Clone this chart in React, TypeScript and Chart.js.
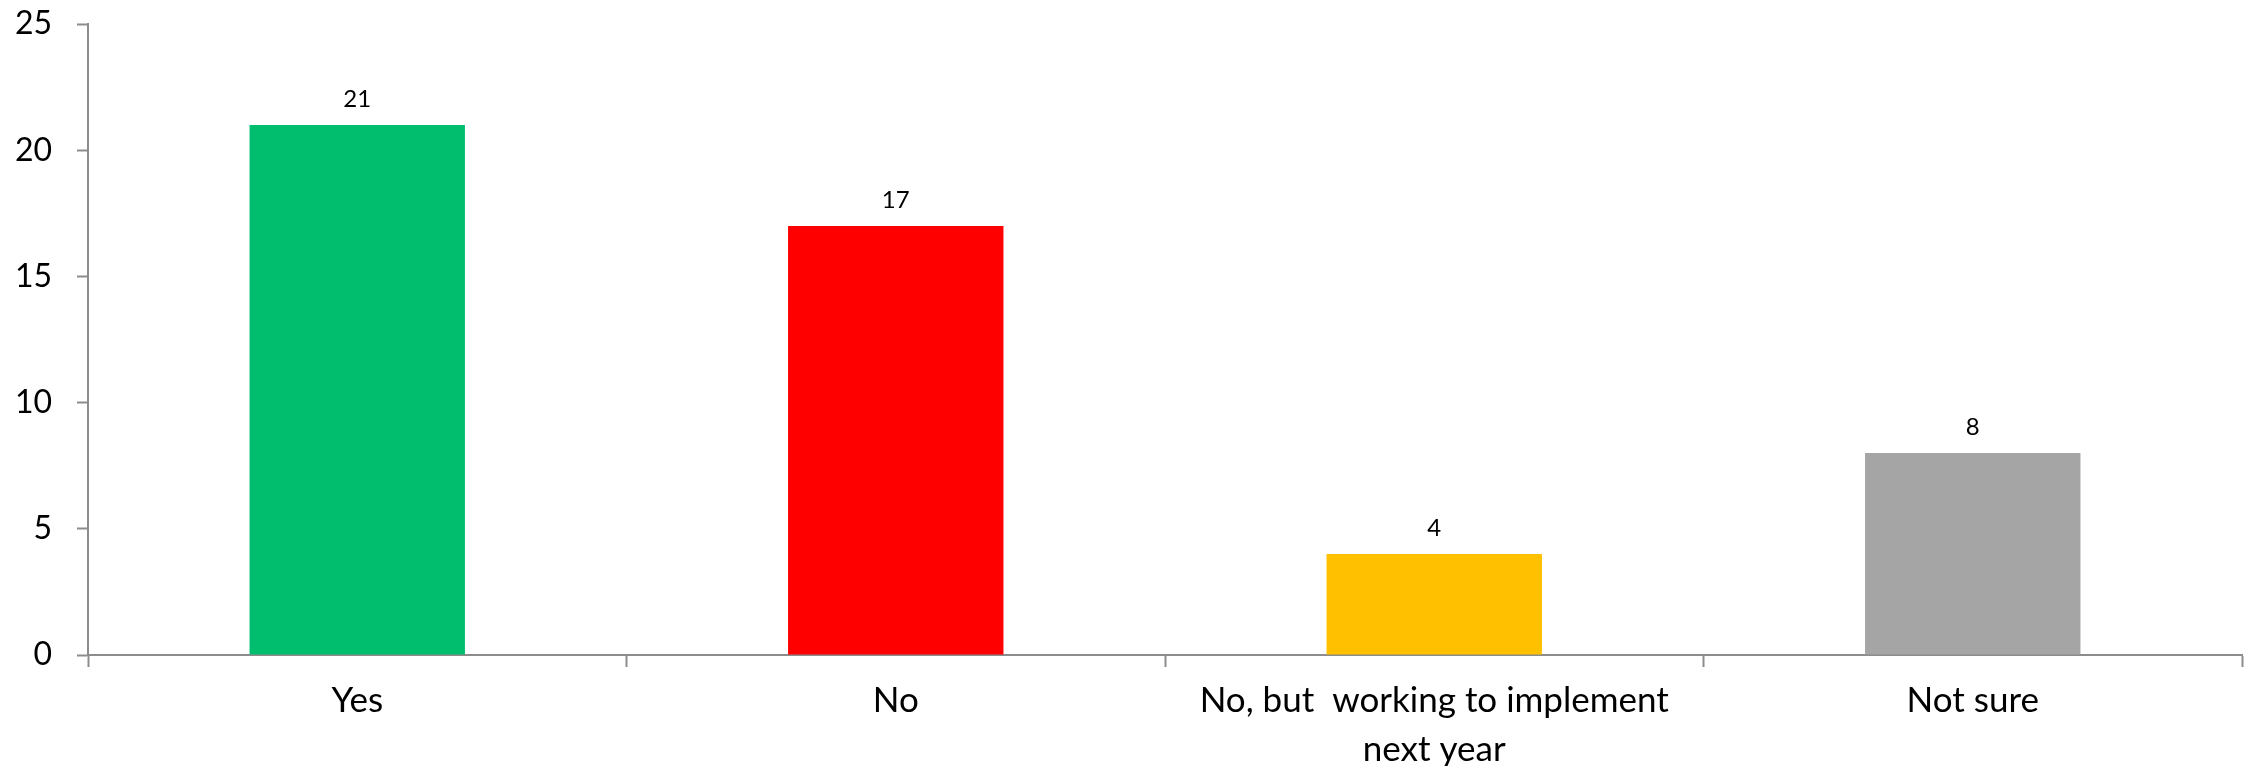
import React, { useEffect, useRef } from "react";
import { Chart, registerables } from "chart.js";

Chart.register(...registerables);

const categories: (string | string[])[] = [
  "Yes",
  "No",
  ["No, but  working to implement", "next year"],
  "Not sure",
];
const counts = [21, 17, 4, 8];
const barColors = ["#00BE6E", "#FF0000", "#FFC000", "#A5A5A5"];
const yMin = 0;
const yMax = 25;
const yStep = 5;

const FONT = "Lato, 'Open Sans', sans-serif";
const AXIS = "#8C8C8C";

const valueLabels = {
  id: "valueLabels",
  afterDatasetsDraw(chart: any) {
    const ctx = chart.ctx;
    const meta = chart.getDatasetMeta(0);
    ctx.save();
    ctx.fillStyle = "#000";
    ctx.font = `24px ${FONT}`;
    ctx.textAlign = "center";
    ctx.textBaseline = "alphabetic";
    meta.data.forEach((bar: any, i: number) => {
      ctx.fillText(String(counts[i]), bar.x, bar.y - 18);
    });
    ctx.restore();
  },
};

export default function App() {
  const ref = useRef<HTMLCanvasElement>(null);
  useEffect(() => {
    if (!ref.current) return;
    const chart = new Chart(ref.current, {
      type: "bar",
      data: {
        labels: categories,
        datasets: [
          {
            data: counts,
            backgroundColor: barColors,
            borderWidth: 0,
            categoryPercentage: 0.4,
            barPercentage: 1,
          },
        ],
      },
      options: {
        animation: false,
        responsive: true,
        maintainAspectRatio: false,
        devicePixelRatio: 1,
        layout: { padding: { top: 24, right: 12, left: 0, bottom: 0 } },
        plugins: { legend: { display: false }, tooltip: { enabled: false } },
        scales: {
          x: {
            grid: {
              display: true,
              drawOnChartArea: false,
              drawTicks: true,
              tickLength: 12,
              tickColor: AXIS,
              tickWidth: 2,
              offset: true,
            },
            border: { display: true, color: AXIS, width: 2 },
            ticks: {
              color: "#000",
              font: { family: FONT, size: 35, lineHeight: 1.4 },
              padding: 9,
              maxRotation: 0,
              autoSkip: false,
            },
            afterFit: (s: any) => {
              s.height = 111;
              s.paddingLeft = 0;
              s.paddingRight = 0;
            },
          },
          y: {
            min: yMin,
            max: yMax,
            grid: {
              display: true,
              drawOnChartArea: false,
              drawTicks: true,
              tickLength: 11,
              tickColor: AXIS,
              tickWidth: 2,
            },
            border: { display: true, color: AXIS, width: 2 },
            ticks: {
              stepSize: yStep,
              color: "#000",
              font: { family: FONT, size: 32 },
              padding: 25,
            },
            afterFit: (s: any) => {
              s.width = 88;
              s.paddingTop = 0;
              s.paddingBottom = 0;
            },
          },
        },
      },
      plugins: [valueLabels],
    });
    return () => chart.destroy();
  }, []);
  return (
    <div
      style={{
        position: "absolute",
        left: 0,
        top: 0,
        width: 2254,
        height: 766,
        background: "#fff",
      }}
    >
      <canvas ref={ref} />
    </div>
  );
}
